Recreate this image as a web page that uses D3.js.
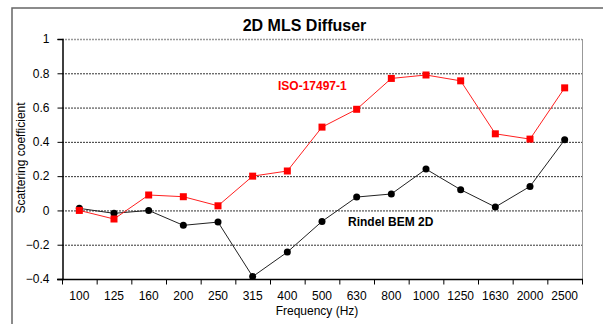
<!DOCTYPE html>
<html>
<head>
<meta charset="utf-8">
<script src="https://cdn.jsdelivr.net/npm/d3@7"></script>
<style>
  html, body { margin: 0; padding: 0; background: #fff; }
  svg { display: block; font-family: "Liberation Sans", Arial, sans-serif; }
</style>
</head>
<body>
<svg id="chart" width="603" height="324"></svg>
<script>
// Third-octave band centre frequencies (Hz)
const frequencies = ["100", "125", "160", "200", "250", "315", "400", "500",
                     "630", "800", "1000", "1250", "1630", "2000", "2500"];

// Scattering coefficient measured per ISO-17497-1
const isoValues = [0.00, -0.05, 0.09, 0.08, 0.027, 0.20, 0.23, 0.486,
                   0.59, 0.77, 0.79, 0.756, 0.447, 0.416, 0.715];

// Scattering coefficient predicted by Rindel's 2D BEM
const bemValues = [0.012, -0.017, 0.00, -0.087, -0.068, -0.386, -0.243, -0.064,
                   0.078, 0.096, 0.241, 0.121, 0.02, 0.14, 0.412];

const yTicks = [-0.4, -0.2, 0, 0.2, 0.4, 0.6, 0.8, 1];

const svg = d3.select("#chart");

// Outer chart frame
svg.append("rect")
  .attr("x", 12).attr("y", 8)
  .attr("width", 640).attr("height", 400)
  .attr("fill", "none").attr("stroke", "#666").attr("stroke-width", 1.5);

const plot = { left: 62, right: 582, top: 39, bottom: 279 };

const x = d3.scaleBand().domain(frequencies).range([plot.left, plot.right]).padding(0);
const y = d3.scaleLinear().domain([-0.4, 1]).range([plot.bottom, plot.top]);

// Horizontal grid lines
svg.append("g").selectAll("line")
  .data(yTicks.filter(v => v > -0.4))
  .join("line")
  .attr("x1", plot.left).attr("x2", plot.right)
  .attr("y1", d => y(d) + 0.5).attr("y2", d => y(d) + 0.5)
  .attr("stroke", d => d === 1 ? "#999" : "#333")
  .attr("stroke-width", d => d === 1 ? 1.5 : 1)
  .attr("stroke-dasharray", "2,1");

// Right edge of plot area
svg.append("line")
  .attr("x1", plot.right + 0.5).attr("x2", plot.right + 0.5)
  .attr("y1", plot.top).attr("y2", plot.bottom)
  .attr("stroke", "#999").attr("stroke-width", 1);

// Y axis
const yAxis = svg.append("g")
  .attr("transform", `translate(${plot.left + 0.5},0)`)
  .call(d3.axisLeft(y).tickValues(yTicks).tickSize(5).tickPadding(8)
    .tickFormat(d => d3.format("")(+d.toFixed(1))));
yAxis.select(".domain").attr("stroke", "#000").attr("stroke-width", 1.5);
yAxis.selectAll("text").attr("font-size", 12).attr("fill", "#000")
  .style("font-family", "Liberation Sans, Arial, sans-serif");

// X axis: ticks at band boundaries, labels at band centres
const xAxisG = svg.append("g").attr("transform", `translate(0,${plot.bottom + 0.5})`);
xAxisG.append("line")
  .attr("x1", plot.left - 5).attr("x2", plot.right + 1)
  .attr("stroke", "#000").attr("stroke-width", 1.5);
const boundaries = frequencies.map(f => x(f)).concat([plot.right]);
xAxisG.selectAll("line.tick")
  .data(boundaries)
  .join("line")
  .attr("class", "tick")
  .attr("x1", d => d + 0.5).attr("x2", d => d + 0.5)
  .attr("y1", 0).attr("y2", 5)
  .attr("stroke", "#000");
xAxisG.selectAll("text")
  .data(frequencies)
  .join("text")
  .attr("x", d => x(d) + x.bandwidth() / 2)
  .attr("y", 20)
  .attr("text-anchor", "middle")
  .attr("font-size", 12)
  .text(d => d);

const cx = d => x(d) + x.bandwidth() / 2;

// Lines
const line = (vals) => d3.line().x((d, i) => cx(frequencies[i])).y(d => y(d))(vals);

svg.append("path").attr("d", line(bemValues))
  .attr("fill", "none").attr("stroke", "#222").attr("stroke-width", 1);
svg.append("path").attr("d", line(isoValues))
  .attr("fill", "none").attr("stroke", "#ff2020").attr("stroke-width", 1);

// Markers
svg.append("g").selectAll("circle")
  .data(bemValues)
  .join("circle")
  .attr("cx", (d, i) => cx(frequencies[i]))
  .attr("cy", d => y(d))
  .attr("r", 3.5)
  .attr("fill", "#000");

svg.append("g").selectAll("rect")
  .data(isoValues)
  .join("rect")
  .attr("x", (d, i) => cx(frequencies[i]) - 3.5)
  .attr("y", d => y(d) - 3.5)
  .attr("width", 7).attr("height", 7)
  .attr("fill", "#ff0000");

// Title
svg.append("text")
  .attr("x", 304.5).attr("y", 31)
  .attr("text-anchor", "middle")
  .attr("font-size", 16).attr("font-weight", "bold")
  .text("2D MLS Diffuser");

// Series labels
svg.append("text")
  .attr("x", 278).attr("y", 90)
  .attr("font-size", 12).attr("font-weight", "bold")
  .attr("fill", "#ff0000")
  .text("ISO-17497-1");

svg.append("text")
  .attr("x", 348).attr("y", 226)
  .attr("font-size", 12).attr("font-weight", "bold")
  .attr("fill", "#000")
  .text("Rindel BEM 2D");

// Axis titles
svg.append("text")
  .attr("x", 317).attr("y", 315)
  .attr("text-anchor", "middle")
  .attr("font-size", 12)
  .text("Frequency (Hz)");

svg.append("text")
  .attr("transform", "translate(25,158) rotate(-90)")
  .attr("text-anchor", "middle")
  .attr("font-size", 12)
  .text("Scattering coefficient");
</script>
</body>
</html>
